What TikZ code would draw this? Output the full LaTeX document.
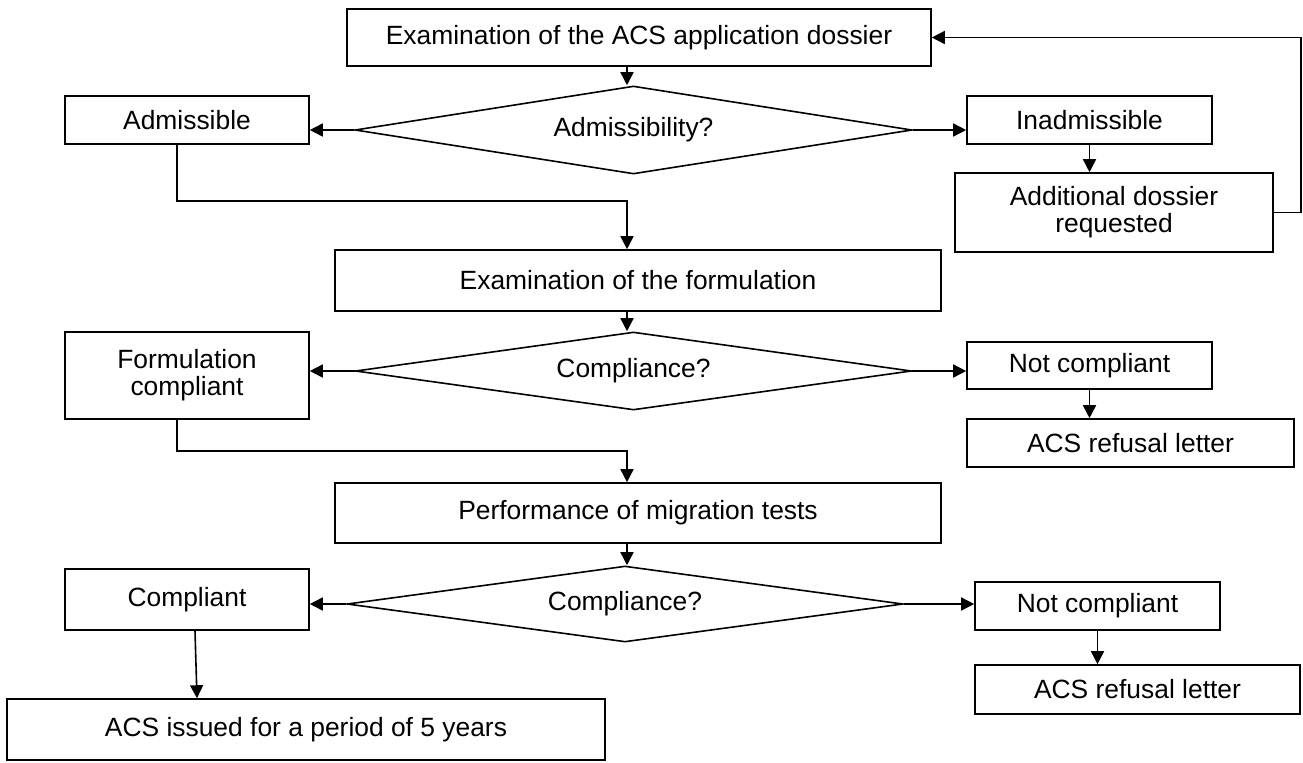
\documentclass[tikz,border=0pt]{standalone}
\usepackage{fontspec}
\setmainfont{Liberation Sans}
\usetikzlibrary{shapes.geometric,arrows.meta}

\begin{document}
\begin{tikzpicture}[x=0.5pt, y=-0.5pt, line width=0.8pt,
                    txt/.style={font=\fontsize{13.2}{13.6}\selectfont, align=center, inner sep=0pt},
                    box/.style={txt, draw, rectangle},
                    ask/.style={txt, draw, diamond, aspect=6},
                    arr/.style={-{Triangle[length=6.5pt,width=6.5pt]}}]

% whole canvas, margins included
\useasboundingbox (0,0) rectangle (1303,762);

% ---- admissibility ----
\node[box, minimum width=292pt, minimum height=28.5pt] (exam) at (639,37.5) {Examination of the ACS application dossier};
\node[ask, minimum width=278.5pt, minimum height=44pt] (admq) at (633.5,130) {Admissibility?};
\node[box, minimum width=122pt, minimum height=24pt] (adm) at (187,120) {Admissible};
\node[box, minimum width=122.5pt, minimum height=24pt] (inadm) at (1089.5,120) {Inadmissible};
\node[box, minimum width=159pt, minimum height=39.5pt] (extra) at (1114,212.5) {Additional dossier\\requested};

% ---- formulation ----
\node[box, minimum width=303pt, minimum height=30.5pt] (form) at (638,280.5) {Examination of the formulation};
\node[ask, minimum width=278pt, minimum height=39pt] (compq1) at (633.5,371) {Compliance?};
\node[box, minimum width=122pt, minimum height=43.5pt] (formok) at (187,375.5) {Formulation\\compliant};
\node[box, minimum width=122.5pt, minimum height=23.5pt] (notok1) at (1089.5,365.5) {Not compliant};
\node[box, minimum width=163.5pt, minimum height=24pt] (refuse1) at (1130.5,443) {ACS refusal letter};

% ---- migration tests ----
\node[box, minimum width=303pt, minimum height=30pt] (perf) at (638,513) {Performance of migration tests};
\node[ask, minimum width=278pt, minimum height=38pt] (compq2) at (625,604) {Compliance?};
\node[box, minimum width=122pt, minimum height=30.5pt] (ok) at (187,599.5) {Compliant};
\node[box, minimum width=122.5pt, minimum height=24pt] (notok2) at (1097.5,606) {Not compliant};
\node[box, minimum width=162.5pt, minimum height=24.5pt] (refuse2) at (1137.5,689.5) {ACS refusal letter};
\node[box, minimum width=299pt, minimum height=30.5pt] (issued) at (306,729.5) {ACS issued for a period of 5 years};

% helper points for the central spine and the bends
\coordinate (spine) at (627,0);
\coordinate (j1) at (627,201);
\coordinate (j2) at (627,451);
\coordinate (loop) at (1301,37.5);

% ---- connectors ----
\draw[arr] (exam.south -| spine) -- (admq.north -| spine);
\draw[arr] (admq.west) -- (admq.west -| adm.east);
\draw[arr] (admq.east) -- (admq.east -| inadm.west);
\draw[arr] (inadm.south) -- (inadm.south |- extra.north);
\draw[arr] (extra.east) -| (loop) -- (exam.east);   % back to the dossier
\draw[arr] ([xshift=-5pt]adm.south) |- (j1) -- (form.north -| j1);

\draw[arr] (form.south -| spine) -- (compq1.north -| spine);
\draw[arr] (compq1.west) -- (compq1.west -| formok.east);
\draw[arr] (compq1.east) -- (compq1.east -| notok1.west);
\draw[arr] (notok1.south) -- (notok1.south |- refuse1.north);
\draw[arr] ([xshift=-5pt]formok.south) |- (j2) -- (perf.north -| j2);

\draw[arr] (perf.south -| spine) -- (compq2.north -| spine);
\draw[arr] (compq2.west) -- (compq2.west -| ok.east);
\draw[arr] (compq2.east) -- (compq2.east -| notok2.west);
\draw[arr] (notok2.south) -- (notok2.south |- refuse2.north);
\draw[arr] ([xshift=4pt]ok.south) -- ([xshift=5pt]ok.south |- issued.north);

\end{tikzpicture}
\end{document}
